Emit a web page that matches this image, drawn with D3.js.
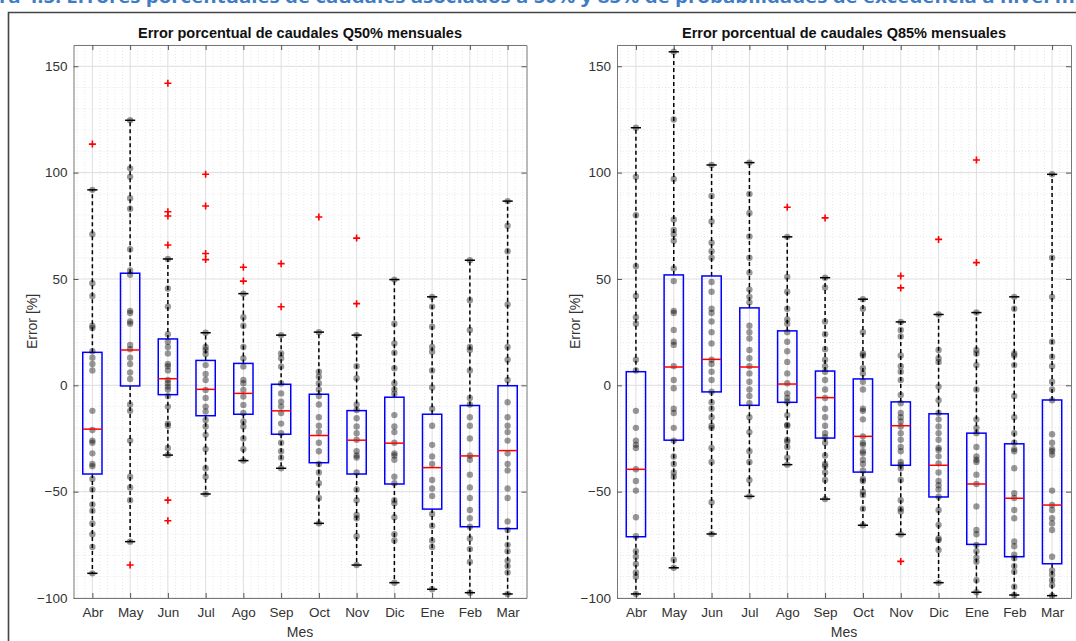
<!DOCTYPE html>
<html>
<head>
<meta charset="utf-8">
<script src="https://cdn.jsdelivr.net/npm/d3@7"></script>
<style>
body{margin:0;background:#fff}
svg{display:block}
text{font-family:"Liberation Sans",Arial,Helvetica,sans-serif}
</style>
</head>
<body>
<svg id="chart" width="1076" height="641"></svg>
<script>
var headerText = "ra 4.5: Errores porcentuales de caudales asociados a 50% y 85% de probabilidades de excedencia a nivel me"
var titles = ["Error porcentual de caudales Q50% mensuales", "Error porcentual de caudales Q85% mensuales"]
var months = ["Abr","May","Jun","Jul","Ago","Sep","Oct","Nov","Dic","Ene","Feb","Mar"]
var yTicks = [-100,-50,0,50,100,150]

// Q50 - box stats
var q50Q3 = [15.5,52.7,21.8,11.7,10.3,0.5,-4.2,-11.9,-5.6,-13.6,-9.5,-0.2]
var q50Median = [-20.6,16.6,3.1,-1.9,-3.8,-12,-23.6,-25.8,-27.2,-38.7,-33.2,-30.7]
var q50Q1 = [-41.7,-0.3,-4.4,-14.3,-13.6,-23,-36.4,-41.7,-46.4,-58.2,-66.5,-67.4]
var q50WhiskHi = [91.9,124.6,59.4,24.7,43.1,23.6,25,23.6,49.7,41.6,58.8,86.6]
var q50WhiskLo = [-88.4,-73.5,-32.8,-51.1,-35.4,-39,-64.9,-84.5,-92.8,-95.9,-97.5,-98.1]
var q50Outliers = [[113.4],[-84.5],[142,81.6,79.6,66,-54,-63.7],[99.2,84.3,62,59.1],[55.5,49],[57.2,36.9],[79.1],[69.2,38.4],[],[],[],[]]
var q50Points = [
  [91.9,71,48,42,28,27,16,13,10,7,-12,-21,-26,-27,-32,-37,-38,-44,-49,-56,-59,-65,-70,-76,-88.4],
  [124.6,102,98,88,83,64,54,52,35,34,30,29,19,17,13,10,6,3,-9,-12,-26,-43,-48,-54,-73.5],
  [59.4,45.5,37,24,20.5,18,15,10,9,7,2.5,1,-0.6,-2,-5,-10,-18,-19,-29.5,-32.8],
  [24.7,18,16.6,14.7,9.5,5.3,2.5,-2.2,-6,-10,-12.3,-16.3,-19.4,-23.3,-30,-39,-43,-51.1],
  [43.1,32,28,18,12.7,8.8,2.5,1,-2.2,-5.3,-9.2,-13,-17,-19.4,-25,-30,-35.4],
  [23.6,15,12.7,8.8,0.9,-3.8,-7.7,-10,-13,-18,-22.5,-27,-31,-34,-39],
  [25,6.4,4,1,-2,-5,-9,-15,-19,-22,-27,-31,-37,-41,-46,-53,-64.9],
  [23.6,9,3.3,-9,-11.6,-15.5,-19.4,-22.5,-25.6,-31,-33,-34,-41,-49,-54,-61,-62.5,-71,-84.5],
  [49.7,29,19.7,15.3,8,1,-2,-4,-14,-19.4,-22,-27,-32,-33,-35,-43,-46,-54,-55.5,-62,-70,-73,-92.8],
  [41.6,37,27.5,18,15.8,7,-1,-11,-19,-28,-33.5,-37,-44.5,-48.5,-52,-60.5,-66,-73,-76,-95.9],
  [58.8,40,26,18,16.6,7,-6,-9,-15,-19,-25,-33,-35,-42,-48,-53,-58.6,-62.5,-66.5,-72,-77,-83,-97.5],
  [86.6,75,63,38,18,12,2.5,-8,-15,-19,-22,-26,-32,-37,-40,-48.5,-53,-64,-68,-75,-78,-82.5,-85,-88,-98.1]
]

// Q85
var q85Q3 = [6.4,51.9,51.4,36.4,25.6,6.7,3,-7.8,-13.4,-22.5,-27.5,-6.9]
var q85Median = [-39.5,8.6,12.2,8.6,0.6,-5.8,-24,-19,-37.6,-46.4,-53.1,-56.3]
var q85Q1 = [-71.2,-25.8,-3.1,-9.4,-8,-24.8,-40.8,-37.6,-52.5,-74.8,-80.6,-83.9]
var q85WhiskHi = [121.1,156.8,103.6,104.7,69.8,50.6,40.5,29.8,33.3,34.2,41.6,99.2]
var q85WhiskLo = [-98.1,-85.8,-69.9,-52.2,-37.3,-53.5,-65.8,-70.1,-92.8,-97.3,-98.6,-98.9]
var q85Outliers = [[],[],[],[],[83.7],[78.7],[],[51.4,45.8,-82.8],[68.6],[105.9,57.7],[],[]]
var q85Points = [
  [121.1,98,80,56,42,32,29,12,7,-12,-20,-26,-28,-29.5,-39.5,-45,-49.5,-62,-71,-78,-80.6,-84,-88,-90,-98.1],
  [156.8,125,97,78,73,71,68,55,49,35,34,26,20.5,19,9,2.5,-1.4,-11,-13,-20,-26,-33.5,-37,-41,-43,-82,-85.8],
  [103.6,89,77,67,63,60,48.6,44,36,34,30,25,19.7,12,10,6.4,2.5,-3,-8,-11,-15,-19,-20,-29.5,-36,-55,-69.9],
  [104.7,90,81,70,60,53,45,41.6,39,28,25,22,16.6,12.7,9,5.6,1.7,-2,-5,-8.4,-15,-22,-31,-36,-44.5,-52.2],
  [69.8,51,44,36,31,29,25,20.5,16,11,5.6,1,-3.8,-6,-7.7,-14,-18.6,-19,-25.6,-26.5,-29,-34,-37.3],
  [50.6,46,30,24,17,12,9,6.4,2.5,-2,-6,-11,-15,-19,-22.5,-24.4,-27,-33,-37,-38,-41,-44.5,-53.5],
  [40.5,36,25,15,14,8,5.6,1.7,-2,-11,-12,-16,-24,-27,-28,-31,-32,-35,-37,-40,-44,-45,-50,-51.6,-58,-65.8],
  [29.8,26,23,14,9,6.4,2.5,-4.5,-8.4,-13,-15,-17,-19.4,-22.5,-25.6,-29,-31,-36,-37.3,-39,-44.5,-54,-58,-59.3,-70.1],
  [33.3,16.6,12.7,11,-0.6,-7,-13,-16,-19.4,-22.5,-25.6,-29.5,-30.4,-33.4,-36.7,-41,-45,-47,-49,-52.4,-58.6,-65.6,-72,-72.7,-77.4,-92.8],
  [34.2,16.6,15,9.5,-2,-16,-20,-22.5,-29,-33.4,-35,-36,-42,-46.4,-57,-68,-70,-75,-78,-81,-83,-91.6,-97.3],
  [41.6,36,15,14,9.5,-5,-15,-22.5,-27,-30,-31,-39,-50.7,-53,-58.6,-62.5,-73.4,-75.7,-79.7,-81.3,-85,-87.6,-94.7,-98.6],
  [99.2,60,41.6,20.5,13.4,9,1.7,-2,-7,-23,-27,-30,-31,-32.7,-49.5,-56.3,-58.6,-62.5,-65,-68,-80.6,-87,-89,-91.6,-94,-98.9]
]

var svg = d3.select("#chart")

// page bits around the figure (caption cut at the top, frame)
svg.append("text")
    .attr("x", -1).attr("y", 3)
    .attr("textLength", 1088).attr("lengthAdjust", "spacingAndGlyphs")
    .attr("fill", "#3f7cc4").style("font-weight", "bold").style("font-size", "17px")
    .style("font-family", "'Open Sans','Liberation Sans',sans-serif")
    .text(headerText)
svg.append("path").attr("d", "M8.5,641V12.5H1076").attr("fill", "none").attr("stroke", "#444").attr("stroke-width", 1.6)

var plotTop = 45, plotBottom = 598
var panels = [
  {left: 73.5, right: 526.5, title: titles[0], q1: q50Q1, q3: q50Q3, med: q50Median, lo: q50WhiskLo, hi: q50WhiskHi, out: q50Outliers, pts: q50Points},
  {left: 617, right: 1071, title: titles[1], q1: q85Q1, q3: q85Q3, med: q85Median, lo: q85WhiskLo, hi: q85WhiskHi, out: q85Outliers, pts: q85Points}
]

panels.forEach(function(p){ drawPanel(p) })

function drawPanel(p)
{
    var x = d3.scaleLinear().domain([0.5, 12.5]).range([p.left, p.right])
    var y = d3.scaleLinear().domain([-100, 160]).range([plotBottom, plotTop])
    var g = svg.append("g")
    var idx = d3.range(1, 13)

    // minor grid
    var minorY = d3.range(-100, 161, 10).filter(function(v){ return v % 50 != 0 })
    var minorX = d3.range(0.6, 12.5, 0.2).filter(function(v){ return Math.abs(v - Math.round(v)) > 0.05 })
    g.selectAll(".my").data(minorY).enter().append("line")
        .attr("x1", p.left).attr("x2", p.right).attr("y1", function(d){return y(d)}).attr("y2", function(d){return y(d)})
        .attr("stroke", "#d8d8d8").attr("stroke-width", 0.6).attr("stroke-dasharray", "1,2")
    g.selectAll(".mx").data(minorX).enter().append("line")
        .attr("y1", plotTop).attr("y2", plotBottom).attr("x1", function(d){return x(d)}).attr("x2", function(d){return x(d)})
        .attr("stroke", "#d8d8d8").attr("stroke-width", 0.6).attr("stroke-dasharray", "1,2")
    // major grid
    g.selectAll(".gy").data(yTicks).enter().append("line")
        .attr("x1", p.left).attr("x2", p.right).attr("y1", function(d){return y(d)}).attr("y2", function(d){return y(d)})
        .attr("stroke", "#dedede").attr("stroke-width", 1)
    g.selectAll(".gx").data(idx).enter().append("line")
        .attr("y1", plotTop).attr("y2", plotBottom).attr("x1", function(d){return x(d)}).attr("x2", function(d){return x(d)})
        .attr("stroke", "#dedede").attr("stroke-width", 1)

    // axes
    var axisCol = "#777"
    g.append("g").attr("transform", "translate(" + p.left + ",0)")
        .call(d3.axisLeft(y).tickValues(yTicks).tickSizeInner(-5).tickSizeOuter(0).tickPadding(6))
    g.append("g").attr("transform", "translate(" + p.right + ",0)")
        .call(d3.axisRight(y).tickValues(yTicks).tickSizeInner(-5).tickSizeOuter(0).tickFormat(""))
    g.append("g").attr("transform", "translate(0," + plotBottom + ")")
        .call(d3.axisBottom(x).tickValues(idx).tickSizeInner(-5).tickSizeOuter(0).tickPadding(9).tickFormat(function(d){ return months[d-1] }))
    g.append("g").attr("transform", "translate(0," + plotTop + ")")
        .call(d3.axisTop(x).tickValues(idx).tickSizeInner(-5).tickSizeOuter(0).tickFormat(""))
    g.selectAll(".domain").attr("stroke", axisCol)
    g.selectAll(".tick line").attr("stroke", "#555")
    g.selectAll(".tick text").attr("fill", "#333").style("font-size", "13.5px").style("font-family", "'Liberation Sans',Arial,sans-serif")

    g.append("text").attr("x", (p.left + p.right) / 2).attr("y", 38).attr("text-anchor", "middle")
        .style("font-weight", "bold").style("font-size", "14.5px").attr("fill", "#111").text(p.title)
    g.append("text").attr("x", (p.left + p.right) / 2).attr("y", 637).attr("text-anchor", "middle")
        .style("font-size", "14px").attr("fill", "#333").text("Mes")
    g.append("text").attr("transform", "translate(" + (p.left - 37) + "," + ((plotTop + plotBottom) / 2) + ") rotate(-90)")
        .attr("text-anchor", "middle").style("font-size", "14px").attr("fill", "#333").text("Error [%]")

    var boxW = 0.51, capW = 0.27
    // whiskers
    g.selectAll(".wh").data(idx).enter().append("line")
        .attr("x1", function(d){return x(d)}).attr("x2", function(d){return x(d)})
        .attr("y1", function(d){return y(p.q3[d-1])}).attr("y2", function(d){return y(p.hi[d-1])})
        .attr("stroke", "#000").attr("stroke-width", 1.5).attr("stroke-dasharray", "4,3")
    g.selectAll(".wl").data(idx).enter().append("line")
        .attr("x1", function(d){return x(d)}).attr("x2", function(d){return x(d)})
        .attr("y1", function(d){return y(p.q1[d-1])}).attr("y2", function(d){return y(p.lo[d-1])})
        .attr("stroke", "#000").attr("stroke-width", 1.5).attr("stroke-dasharray", "4,3")
    g.selectAll(".ch").data(idx).enter().append("line")
        .attr("x1", function(d){return x(d - capW/2)}).attr("x2", function(d){return x(d + capW/2)})
        .attr("y1", function(d){return y(p.hi[d-1])}).attr("y2", function(d){return y(p.hi[d-1])})
        .attr("stroke", "#000").attr("stroke-width", 1.5)
    g.selectAll(".cl").data(idx).enter().append("line")
        .attr("x1", function(d){return x(d - capW/2)}).attr("x2", function(d){return x(d + capW/2)})
        .attr("y1", function(d){return y(p.lo[d-1])}).attr("y2", function(d){return y(p.lo[d-1])})
        .attr("stroke", "#000").attr("stroke-width", 1.5)
    // boxes
    g.selectAll(".bx").data(idx).enter().append("rect")
        .attr("x", function(d){return x(d - boxW/2)}).attr("width", x(boxW) - x(0))
        .attr("y", function(d){return y(p.q3[d-1])}).attr("height", function(d){return y(p.q1[d-1]) - y(p.q3[d-1])})
        .attr("fill", "none").attr("stroke", "#0000ff").attr("stroke-width", 1.5)

    // data points
    idx.forEach(function(d)
    {
        g.selectAll(".pt" + d).data(p.pts[d-1]).enter().append("circle")
            .attr("cx", x(d)).attr("cy", function(v){return y(v)}).attr("r", 3.2)
            .attr("fill", "#000").attr("fill-opacity", 0.4)
    })

    // medians
    g.selectAll(".md").data(idx).enter().append("line")
        .attr("x1", function(d){return x(d - boxW/2)}).attr("x2", function(d){return x(d + boxW/2)})
        .attr("y1", function(d){return y(p.med[d-1])}).attr("y2", function(d){return y(p.med[d-1])})
        .attr("stroke", "#ff0000").attr("stroke-width", 1.5)

    // outliers as red +
    idx.forEach(function(d)
    {
        g.selectAll(".o" + d).data(p.out[d-1]).enter().append("path")
            .attr("d", function(v){ var cx = x(d), cy = y(v); return "M" + (cx-3.5) + "," + cy + "H" + (cx+3.5) + "M" + cx + "," + (cy-3.5) + "V" + (cy+3.5) })
            .attr("stroke", "#ff0000").attr("stroke-width", 1.6).attr("fill", "none")
    })
}
</script>
</body>
</html>
